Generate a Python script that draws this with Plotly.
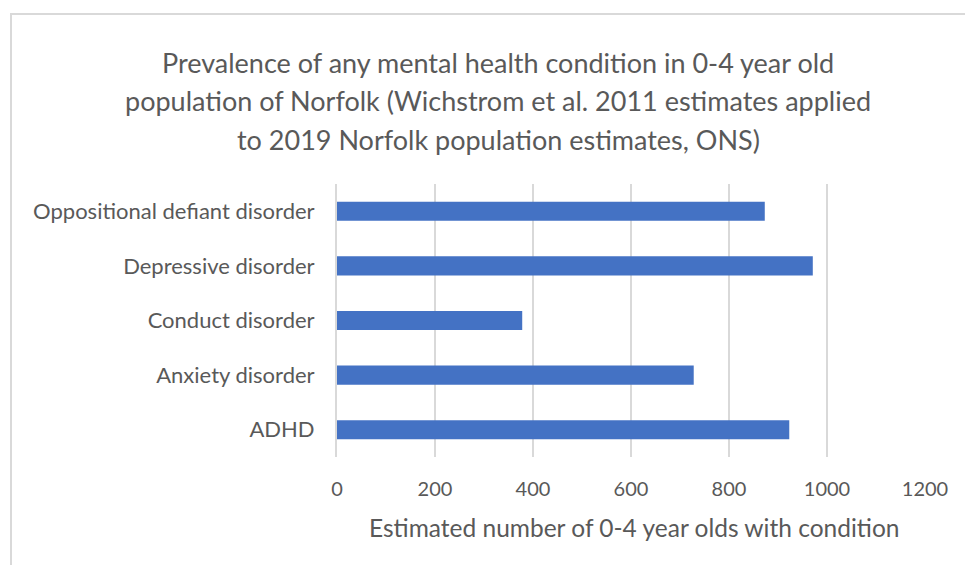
import plotly.graph_objects as go

# Conditions listed bottom-to-top as drawn on the category axis
conditions = [
    "ADHD",
    "Anxiety disorder",
    "Conduct disorder",
    "Depressive disorder",
    "Oppositional defiant disorder",
]
estimated_counts = [923, 728, 378, 971, 873]
x_ticks = [0, 200, 400, 600, 800, 1000, 1200]

title_lines = [
    "Prevalence of any mental health condition in 0-4 year old",
    "population of Norfolk (Wichstrom et al. 2011 estimates applied",
    "to 2019 Norfolk population estimates, ONS)",
]
x_title = "Estimated number of 0-4 year olds with condition"

W, H = 965, 565
L, R, T, B = 337, 40, 184, 108
PW, PH = W - L - R, H - T - B

FONT = "Lato"
TXT = "#595959"
GRID = "#d9d9d9"


def px_x(px):
    return (px - L) / PW


def px_y(py):
    return 1 - (py - T) / PH


fig = go.Figure(
    go.Bar(
        y=conditions,
        x=estimated_counts,
        orientation="h",
        marker=dict(color="#4472C4", line=dict(width=0)),
        hoverinfo="x+y",
    )
)

annotations = []
for i, line in enumerate(title_lines):
    annotations.append(dict(
        text=line, xref="paper", yref="paper",
        x=px_x(498), y=px_y(62 + i * 39),
        xanchor="center", yanchor="middle", showarrow=False,
        font=dict(family=FONT, size=27, color=TXT),
    ))
annotations.append(dict(
    text=x_title, xref="paper", yref="paper",
    x=px_x(634), y=px_y(527),
    xanchor="center", yanchor="middle", showarrow=False,
    font=dict(family=FONT, size=24.5, color=TXT),
))

fig.update_layout(
    width=W, height=H,
    margin=dict(l=L, r=R, t=T, b=B, pad=0),
    paper_bgcolor="white", plot_bgcolor="white",
    showlegend=False,
    bargap=0.65,
    annotations=annotations,
    shapes=[dict(
        type="rect", xref="paper", yref="paper",
        x0=px_x(11), x1=px_x(990), y0=px_y(590), y1=px_y(14),
        line=dict(color=GRID, width=2), fillcolor="rgba(0,0,0,0)", layer="below",
    )],
    xaxis=dict(
        range=[0, 1200], tickvals=x_ticks, ticktext=[str(v) for v in x_ticks],
        showgrid=True, gridcolor=GRID, gridwidth=2,
        zeroline=False, showline=False, ticks="",
        ticklabelstandoff=18,
        tickfont=dict(family=FONT, size=20, color=TXT),
    ),
    yaxis=dict(
        showgrid=False, zeroline=False, ticks="",
        showline=True, linecolor=GRID, linewidth=2,
        ticklabelstandoff=16,
        tickfont=dict(family=FONT, size=22, color=TXT),
    ),
)

fig.write_html("out.html")
